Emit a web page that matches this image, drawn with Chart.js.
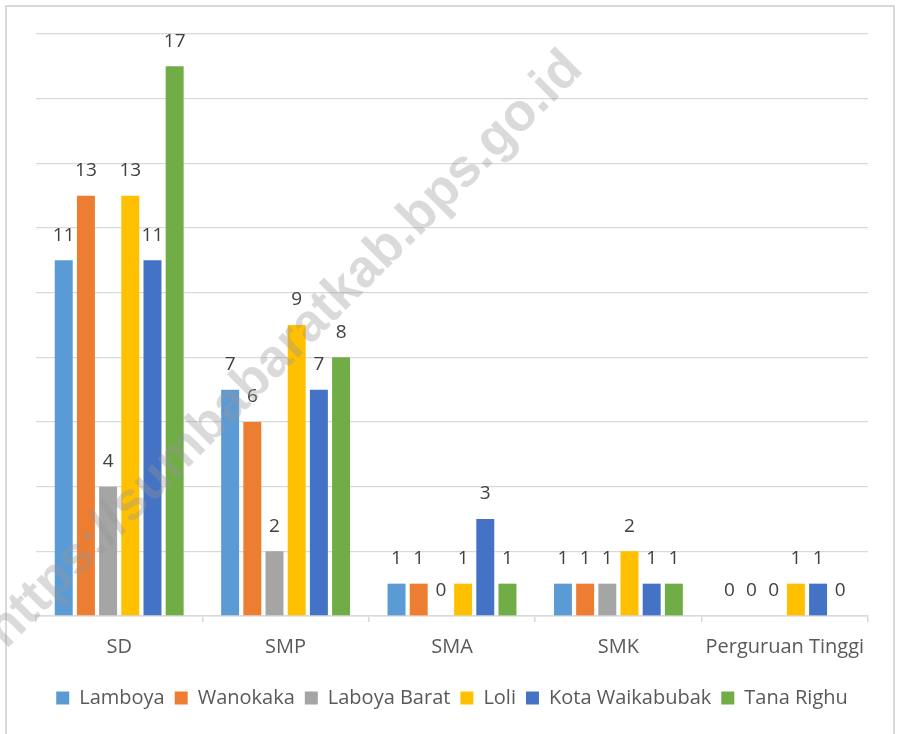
<!DOCTYPE html>
<html lang="id">
<head>
  <meta charset="UTF-8">
  <title>Sekolah per Kecamatan</title>
  <script src="https://cdn.jsdelivr.net/npm/chart.js"></script>
  <style>
    body { margin: 0; background: #fff; }
    .frame {
      position: absolute; left: 5px; top: 5px;
      width: 890px; height: 740px;
      border: 2px solid #d9d9d9; box-sizing: border-box;
    }
    .wrap { position: absolute; left: 0; top: 0; width: 902px; height: 734px; }
  </style>
</head>
<body>
<div class="frame"></div>
<div class="wrap"><canvas id="chart" width="902" height="734"></canvas></div>

<script>
const categories = ["SD", "SMP", "SMA", "SMK", "Perguruan Tinggi"];
const seriesNames = ["Lamboya", "Wanokaka", "Laboya Barat", "Loli", "Kota Waikabubak", "Tana Righu"];
const lamboya = [11, 7, 1, 1, 0];
const wanokaka = [13, 6, 1, 1, 0];
const laboyaBarat = [4, 2, 0, 1, 0];
const loli = [13, 9, 1, 2, 1];
const kotaWaikabubak = [11, 7, 3, 1, 1];
const tanaRighu = [17, 8, 1, 1, 0];
const colors = ["#5B9BD5", "#ED7D31", "#A5A5A5", "#FFC000", "#4472C4", "#70AD47"];

const FONT = "Open Sans";
const values = [lamboya, wanokaka, laboyaBarat, loli, kotaWaikabubak, tanaRighu];

// value labels above each bar
const valueLabels = {
  id: "valueLabels",
  afterDatasetsDraw(chart) {
    const ctx = chart.ctx;
    ctx.save();
    ctx.font = "19px " + FONT;
    ctx.fillStyle = "#404040";
    ctx.textAlign = "center";
    ctx.textBaseline = "middle";
    chart.data.datasets.forEach((ds, i) => {
      chart.getDatasetMeta(i).data.forEach((bar, j) => {
        ctx.fillText(ds.data[j], bar.x, bar.y - 25);
      });
    });
    ctx.restore();
  }
};

// diagonal source watermark
const watermark = {
  id: "watermark",
  afterDraw(chart) {
    const ctx = chart.ctx;
    ctx.save();
    ctx.translate(285, 350);
    ctx.rotate(-Math.PI / 4);
    ctx.font = 'bold 53px "Liberation Sans"';
    ctx.fillStyle = "rgba(150,150,150,0.35)";
    ctx.textAlign = "center";
    ctx.textBaseline = "middle";
    ctx.fillText("https://sumbabaratkab.bps.go.id", 0, 0);
    ctx.restore();
  }
};

new Chart(document.getElementById("chart"), {
  type: "bar",
  data: {
    labels: categories,
    datasets: seriesNames.map((name, i) => ({
      label: name,
      data: values[i],
      backgroundColor: colors[i],
      borderWidth: 0,
      categoryPercentage: 0.8,
      barPercentage: 0.81
    }))
  },
  options: {
    responsive: false,
    animation: false,
    layout: { padding: { left: 36, right: 34, top: 34, bottom: 16 } },
    scales: {
      x: {
        grid: { drawOnChartArea: false, drawTicks: true, tickLength: 6, color: "#d9d9d9", lineWidth: 1.5 },
        border: { display: true, color: "#d9d9d9", width: 1.5 },
        ticks: { color: "#595959", font: { family: FONT, size: 20 }, padding: 13 },
        afterFit(scale) { scale.height += 6; }
      },
      y: {
        min: 0,
        max: 18,
        ticks: { stepSize: 2, display: false },
        grid: { color: "#d9d9d9", lineWidth: 1.3, drawTicks: false },
        border: { display: false }
      }
    },
    plugins: {
      legend: {
        position: "bottom",
        labels: {
          boxWidth: 13,
          boxHeight: 13,
          padding: 10,
          color: "#595959",
          font: { family: FONT, size: 20 }
        }
      },
      tooltip: { enabled: false }
    }
  },
  plugins: [valueLabels, watermark]
});
</script>
</body>
</html>
